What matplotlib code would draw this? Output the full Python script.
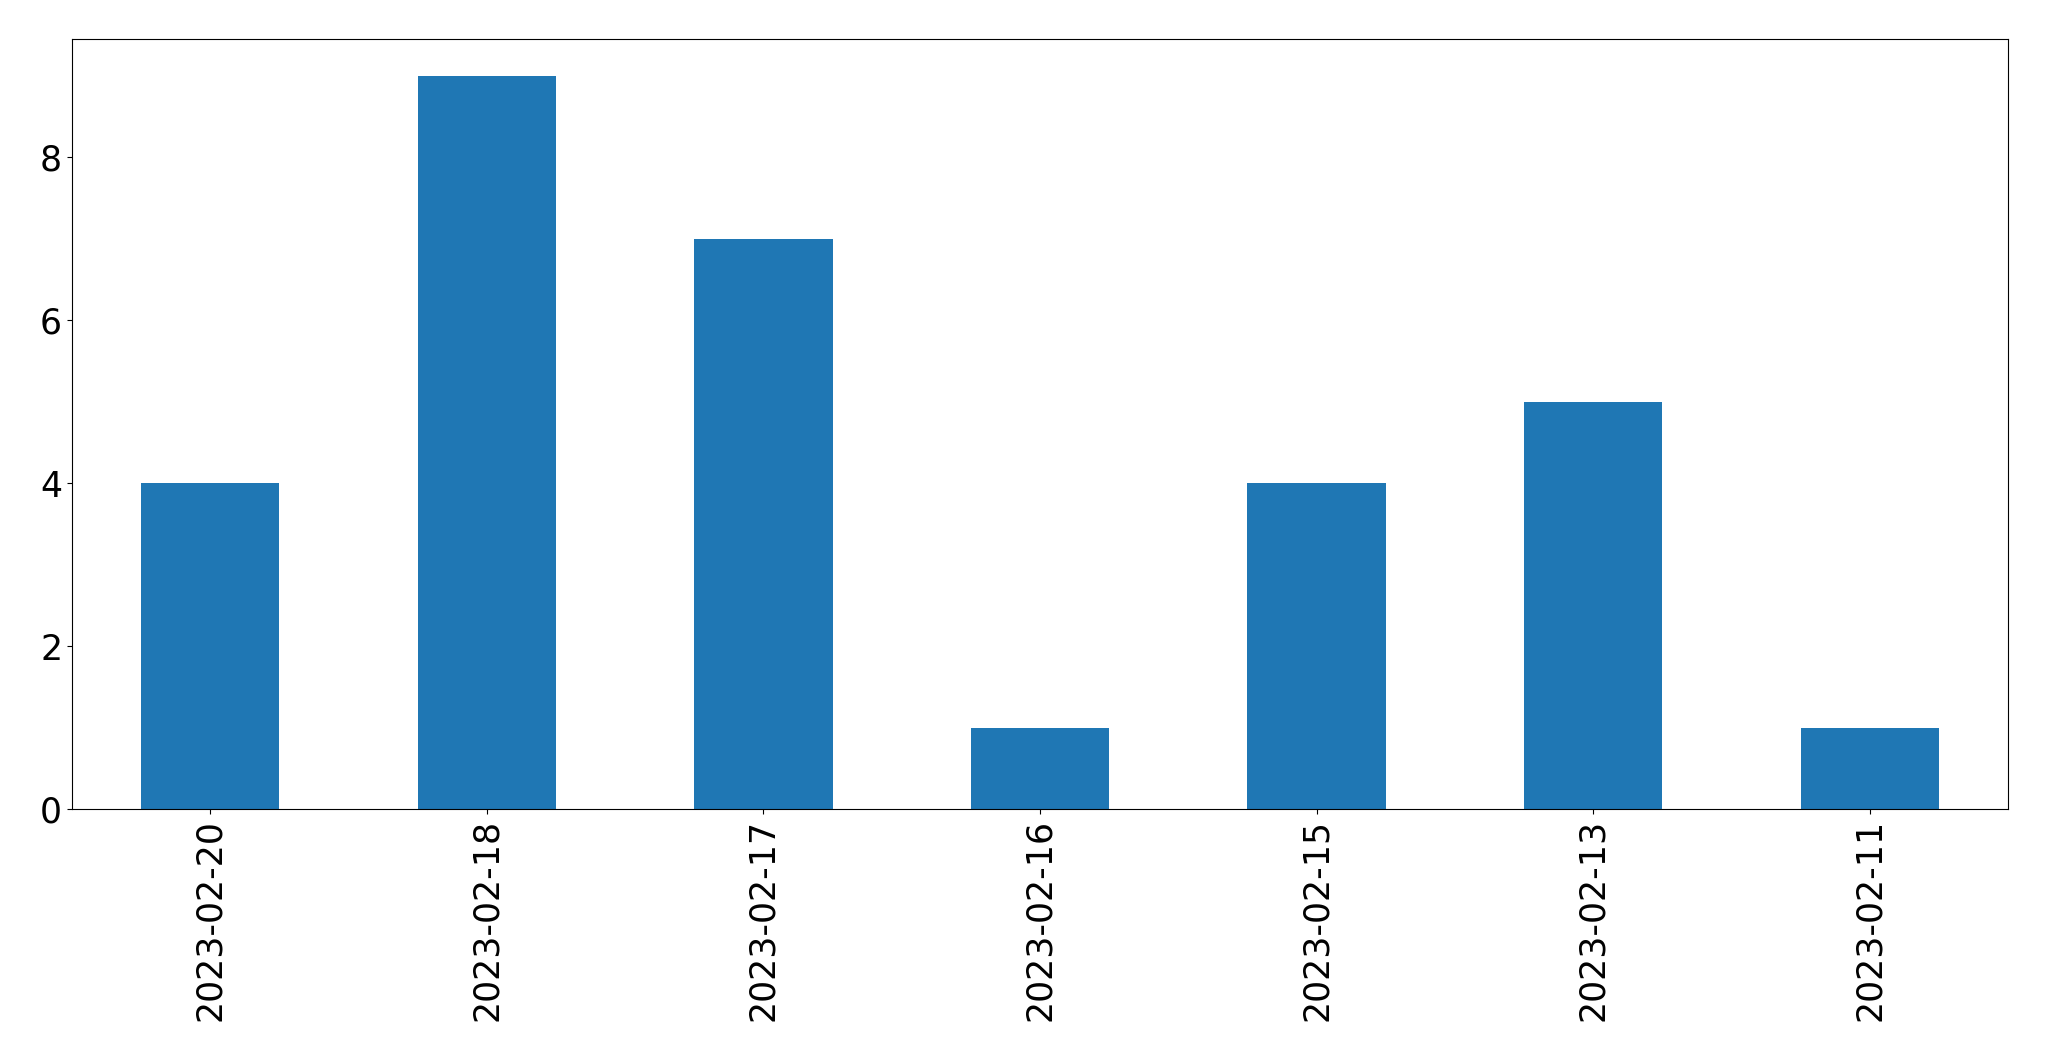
import matplotlib
matplotlib.use("Agg")
import matplotlib.pyplot as plt

dates = ["2023-02-20", "2023-02-18", "2023-02-17", "2023-02-16", "2023-02-15", "2023-02-13", "2023-02-11"]
counts = [4, 9, 7, 1, 4, 5, 1]

fig = plt.figure(figsize=(20.49, 10.61), dpi=100)
ax = fig.add_axes([0.0351, 0.2375, 0.98 - 0.0351, 0.9632 - 0.2375])
x = list(range(len(dates)))
ax.bar(x, counts, width=0.5, color="#1f77b4")
ax.set_xlim(-0.5, len(dates) - 0.5)
ax.set_ylim(0, 9.45)
ax.set_xticks(x)
ax.set_xticklabels(dates, rotation=90)
ax.set_yticks([0, 2, 4, 6, 8])
ax.tick_params(labelsize=25)
fig.savefig("out.png", dpi=100)
